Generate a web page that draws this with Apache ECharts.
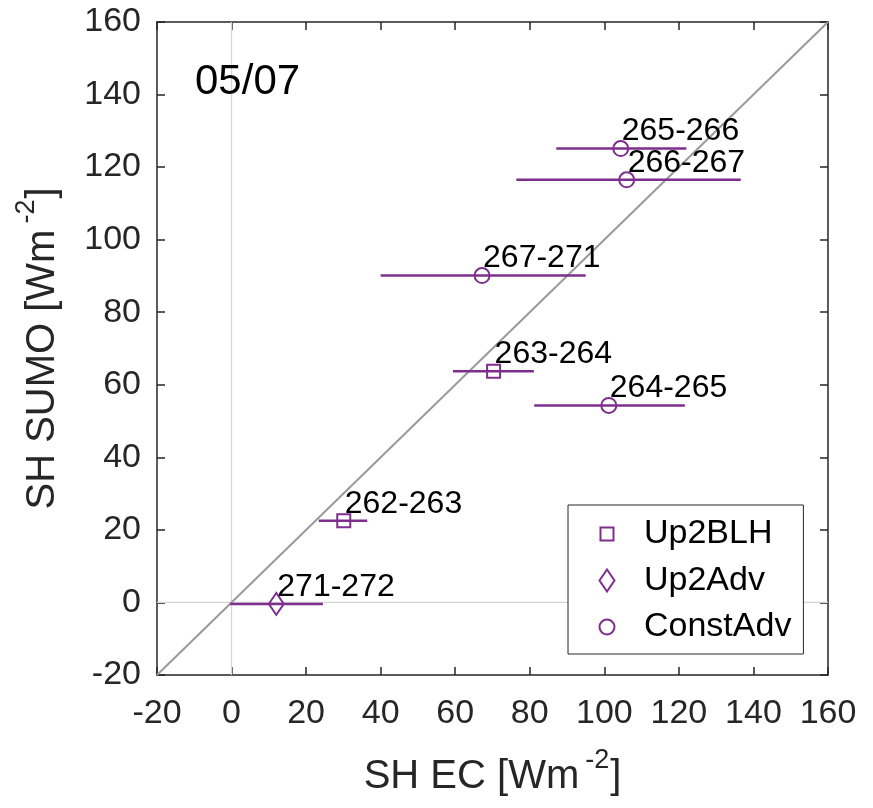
<!DOCTYPE html>
<html>
<head>
<meta charset="utf-8">
<script src="https://cdn.jsdelivr.net/npm/echarts@6/dist/echarts.min.js"></script>
<style>
  html, body { margin: 0; padding: 0; background: #ffffff; }
  #chart { width: 873px; height: 808px; }
</style>
</head>
<body>
<div id="chart"></div>
<script>
// Sensible heat flux, SUMO vs eddy covariance, per flight-day window
const periods  = ['262-263', '263-264', '264-265', '265-266', '266-267', '267-271', '271-272'];
const methods  = ['Up2BLH', 'Up2BLH', 'ConstAdv', 'ConstAdv', 'ConstAdv', 'ConstAdv', 'Up2Adv'];
const shEC     = [30.1, 70.3, 101.2, 104.4, 106.0, 67.2, 12.0];
const shSUMO   = [22.5, 63.7, 54.3, 125.1, 116.5, 90.1, -0.4];
const shECLow  = [23.4, 59.4, 81.2, 87.1, 76.4, 40.0, -0.4];
const shECHigh = [36.4, 81.1, 121.6, 122.0, 136.6, 95.0, 24.5];
const methodNames = ['Up2BLH', 'Up2Adv', 'ConstAdv'];
const axisMin = -20, axisMax = 160, axisStep = 20;
const dateLabel = '05/07';

const PURPLE = '#7E2F8E';
const AXIS_COLOR = '#262626';
const FONT = '"Liberation Sans", Arial, Helvetica, sans-serif';

const markerSymbol = {
  Up2BLH: 'rect',
  Up2Adv: 'path://M0,-1.5L1,0L0,1.5L-1,0Z',
  ConstAdv: 'circle'
};
const markerSize = { Up2BLH: 13, Up2Adv: [15, 22], ConstAdv: 15 };

// legend icons laid out in a 64x44 box (corner moves keep the frame size)
const legendIcon = {
  Up2BLH: 'path://M0,0M64,44M25.5,15.5H38.5V28.5H25.5Z',
  Up2Adv: 'path://M0,0M64,44M32,11L39.5,22L32,33L24.5,22Z',
  ConstAdv: 'path://M0,0M64,44M24.5,22A7.5,7.5 0 1,0 39.5,22A7.5,7.5 0 1,0 24.5,22Z'
};

const chart = echarts.init(document.getElementById('chart'), null, { renderer: 'canvas' });

const scatterSeries = methodNames.map(m => ({
  name: m,
  type: 'scatter',
  z: 5,
  symbol: markerSymbol[m],
  symbolSize: markerSize[m],
  itemStyle: { color: 'rgba(0,0,0,0)', borderColor: PURPLE, borderWidth: 2, opacity: 1 },
  emphasis: { disabled: true },
  label: {
    show: true,
    position: 'inside',
    align: 'left',
    verticalAlign: 'bottom',
    offset: [1, -1],
    formatter: p => p.data[2],
    color: '#000000',
    fontFamily: FONT,
    fontSize: 32
  },
  data: periods
    .map((p, i) => [shEC[i], shSUMO[i], p, methods[i]])
    .filter(d => d[3] === m)
}));

const nameRich = {
  t: { fontSize: 40, fontFamily: FONT, color: AXIS_COLOR, lineHeight: 40 },
  s: { fontSize: 27, fontFamily: FONT, color: AXIS_COLOR, lineHeight: 27, padding: [0, 1, 33, 6] }
};

const boxAxis = (extra) => Object.assign({
  type: 'value',
  min: axisMin,
  max: axisMax,
  interval: axisStep,
  axisLine: { show: true, onZero: false, lineStyle: { color: AXIS_COLOR, width: 1.5 } },
  axisTick: { show: true, inside: true, length: 8, lineStyle: { color: AXIS_COLOR, width: 1.5 } },
  splitLine: { show: false },
  axisLabel: { show: false }
}, extra);

const option = {
  backgroundColor: '#ffffff',
  animation: false,
  title: {
    text: dateLabel,
    left: 195,
    top: 61,
    padding: 0,
    textStyle: { fontFamily: FONT, fontSize: 42, fontWeight: 'normal', color: '#000000' }
  },
  grid: { left: 157, right: 45, top: 22, bottom: 133, containLabel: false, outerBoundsMode: 'none' },
  legend: {
    orient: 'vertical',
    left: 568,
    top: 505,
    padding: [6, 12, 4, 6],
    itemWidth: 64,
    itemHeight: 44,
    itemGap: 0.5,
    symbolKeepAspect: false,
    backgroundColor: '#ffffff',
    borderColor: AXIS_COLOR,
    borderWidth: 1,
    borderRadius: 0,
    selectedMode: false,
    textStyle: { fontFamily: FONT, fontSize: 34, color: '#000000', padding: [0, 0, 0, 0] },
    data: methodNames.map(m => ({
      name: m,
      icon: legendIcon[m],
      itemStyle: { color: 'rgba(0,0,0,0)', borderColor: PURPLE, borderWidth: 2 }
    }))
  },
  xAxis: [
    boxAxis({
      position: 'bottom',
      name: '{t|SH EC [Wm}{s|-2}{t|]}',
      nameLocation: 'middle',
      nameGap: 82,
      nameTextStyle: { rich: nameRich },
      axisLabel: { show: true, margin: 22, fontFamily: FONT, fontSize: 34, color: AXIS_COLOR }
    }),
    boxAxis({ position: 'top' })
  ],
  yAxis: [
    boxAxis({
      position: 'left',
      name: '{t|SH SUMO [Wm}{s|-2}{t|]}',
      nameLocation: 'middle',
      nameGap: 79,
      nameTextStyle: { rich: nameRich },
      axisLabel: { show: true, margin: 16, fontFamily: FONT, fontSize: 34, color: AXIS_COLOR }
    }),
    boxAxis({ position: 'right' })
  ],
  series: [
    {
      name: 'zeroX',
      type: 'line',
      z: 1,
      silent: true,
      symbol: 'none',
      lineStyle: { color: '#d4d4d4', width: 1.2 },
      data: [[0, axisMin], [0, axisMax]]
    },
    {
      name: 'zeroY',
      type: 'line',
      z: 1,
      silent: true,
      symbol: 'none',
      lineStyle: { color: '#d4d4d4', width: 1.2 },
      data: [[axisMin, 0], [axisMax, 0]]
    },
    {
      name: 'oneToOne',
      type: 'line',
      z: 2,
      silent: true,
      symbol: 'none',
      lineStyle: { color: '#9a9a9a', width: 2 },
      data: [[axisMin, axisMin], [axisMax, axisMax]]
    },
    {
      name: 'range',
      type: 'custom',
      z: 3,
      silent: true,
      encode: { x: [0, 1], y: 2 },
      data: periods.map((p, i) => [shECLow[i], shECHigh[i], shSUMO[i]]),
      renderItem: (params, api) => {
        const a = api.coord([api.value(0), api.value(2)]);
        const b = api.coord([api.value(1), api.value(2)]);
        return {
          type: 'line',
          shape: { x1: a[0], y1: a[1], x2: b[0], y2: b[1] },
          style: { stroke: PURPLE, lineWidth: 2.5 }
        };
      }
    },
    ...scatterSeries
  ]
};

chart.setOption(option);
</script>
</body>
</html>
